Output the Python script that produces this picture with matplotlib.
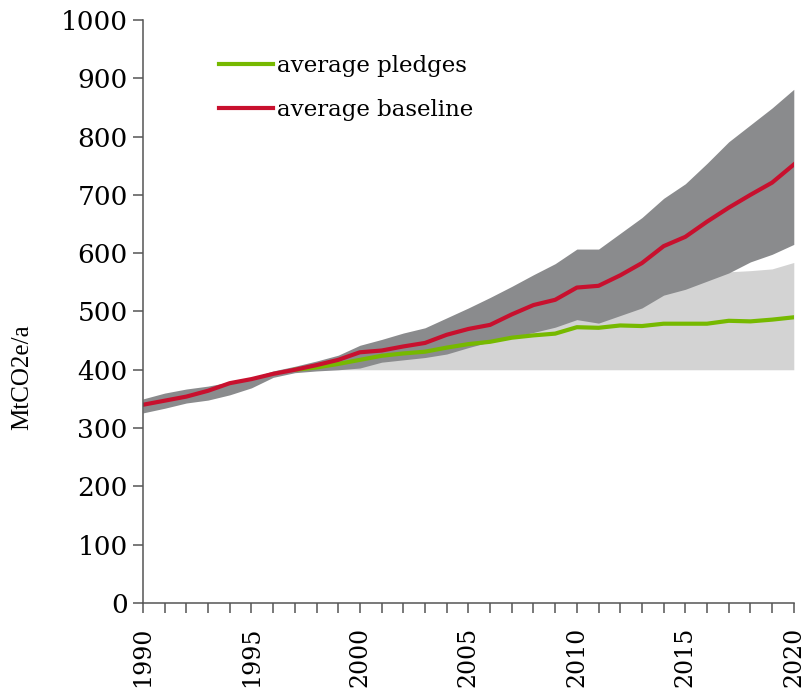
import matplotlib.pyplot as plt

years = list(range(1990, 2021))

# average baseline (red line)
baseline_avg = [340, 347, 354, 364, 377, 384, 393, 400, 408, 417,
                430, 433, 440, 446, 460, 470, 477, 495, 511, 520,
                541, 544, 562, 583, 612, 628, 654, 678, 700, 721, 752]
# range of baseline scenarios (dark band)
baseline_min = [326, 334, 343, 348, 357, 369, 387, 395, 398, 400,
                403, 413, 417, 421, 427, 438, 448, 456, 464, 473,
                486, 480, 493, 506, 528, 538, 552, 566, 585, 598, 615]
baseline_max = [350, 360, 367, 372, 379, 386, 398, 406, 415, 425,
                442, 452, 463, 472, 489, 506, 524, 543, 563, 582,
                607, 607, 634, 661, 694, 719, 754, 791, 820, 849, 881]

# pledges (start in 1997)
pledge_years = list(range(1997, 2021))
pledge_avg = [400, 404, 410, 417, 424, 428, 431, 438, 444, 448,
              455, 459, 462, 473, 472, 476, 475, 479, 479, 479,
              484, 483, 486, 490]
pledge_max = [400, 404, 410, 418, 425, 430, 436, 442, 450, 458,
              466, 474, 484, 495, 492, 505, 518, 535, 545, 558,
              568, 570, 573, 584]
pledge_floor = 400

green = "#76b900"
red = "#c8102e"

fig = plt.figure(figsize=(8.01, 6.9), dpi=100)
ax = fig.add_axes([0.1785, 0.1261, 0.8125, 0.845])

ax.fill_between(pledge_years, pledge_floor, pledge_max, color="#d3d3d3", lw=0)
ax.fill_between(years, baseline_min, baseline_max, color="#8a8b8d", lw=0)
ax.plot(pledge_years, pledge_avg, color=green, lw=3, label="average pledges")
ax.plot(years, baseline_avg, color=red, lw=3, label="average baseline")

ax.set_xlim(1990, 2020)
ax.set_ylim(0, 1000)
ax.set_yticks(range(0, 1001, 100))
ax.set_xticks(years)
ax.set_xticklabels([str(y) if y % 5 == 0 else "" for y in years],
                   rotation=90, family="DejaVu Serif", fontsize=17)
for lab in ax.get_yticklabels():
    lab.set_family("DejaVu Serif")
    lab.set_fontsize(19)

for s in ["top", "right"]:
    ax.spines[s].set_visible(False)
for s in ["left", "bottom"]:
    ax.spines[s].set_color("#555555")
    ax.spines[s].set_linewidth(1.1)
ax.tick_params(direction="out", length=7, width=1.1, color="#555555", pad=4)
ax.tick_params(axis="x", pad=10)

ax.set_ylabel("MtCO2e/a", family="Liberation Serif", fontsize=18)
ax.yaxis.set_label_coords(-0.169, 0.388)

ax.legend(loc="upper left", bbox_to_anchor=(0.085, 0.975), frameon=False,
          prop={"family": "DejaVu Serif", "size": 16.5},
          handlelength=2.35, handletextpad=0.2, labelspacing=0.95)

plt.savefig("out.png", dpi=100)
